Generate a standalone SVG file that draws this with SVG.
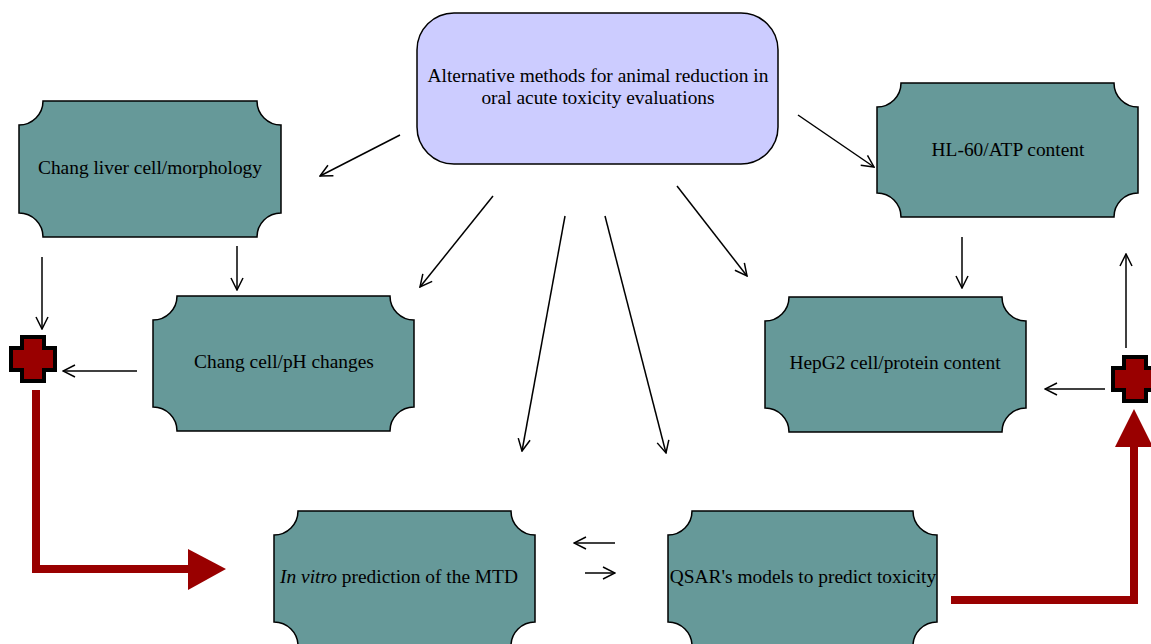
<svg xmlns="http://www.w3.org/2000/svg" width="1151" height="644" viewBox="0 0 1151 644">
<defs>
<style>
.plaque{fill:#669999;stroke:#000;stroke-width:1.5}
.lbl{font-family:"Liberation Serif","Times New Roman",serif;font-size:19.4px;fill:#000;text-anchor:middle}
.conn{stroke:#000;stroke-width:1.5;fill:none;marker-end:url(#chev)}
.red{stroke:#990000;stroke-width:8;fill:none}
.plus{fill:#990000;stroke:#000;stroke-width:4;stroke-linejoin:miter}
</style>
<marker id="chev" viewBox="0 0 14 14" refX="13" refY="7" markerWidth="14" markerHeight="14" markerUnits="userSpaceOnUse" orient="auto">
<path d="M1,1 L13,7 L1,13" fill="none" stroke="#000" stroke-width="1.5"/>
</marker>
</defs>
<rect width="1151" height="644" fill="#fff"/>

<g id="center">
<rect x="417" y="13" width="361" height="151" rx="37" ry="37" fill="#ccccff" stroke="#000" stroke-width="1.5"/>
<text class="lbl" x="598" y="82">Alternative methods for animal reduction in</text>
<text class="lbl" x="598" y="104">oral acute toxicity evaluations</text>
</g>

<g id="chang-liver">
<path class="plaque" d="M43,101 L257,101 A24,24 0 0 0 281,125 L281,213 A24,24 0 0 0 257,237 L43,237 A24,24 0 0 0 19,213 L19,125 A24,24 0 0 0 43,101 Z"/>
<text class="lbl" x="150" y="174">Chang liver cell/morphology</text>
</g>

<g id="chang-ph">
<path class="plaque" d="M177,296 L390,296 A24,24 0 0 0 414,320 L414,407 A24,24 0 0 0 390,431 L177,431 A24,24 0 0 0 153,407 L153,320 A24,24 0 0 0 177,296 Z"/>
<text class="lbl" x="284" y="368">Chang cell/pH changes</text>
</g>

<g id="hl60">
<path class="plaque" d="M901,83 L1114,83 A24,24 0 0 0 1138,107 L1138,193 A24,24 0 0 0 1114,217 L901,217 A24,24 0 0 0 877,193 L877,107 A24,24 0 0 0 901,83 Z"/>
<text class="lbl" x="1008" y="156">HL-60/ATP content</text>
</g>

<g id="hepg2">
<path class="plaque" d="M789,297 L1002,297 A24,24 0 0 0 1026,321 L1026,408 A24,24 0 0 0 1002,432 L789,432 A24,24 0 0 0 765,408 L765,321 A24,24 0 0 0 789,297 Z"/>
<text class="lbl" x="895" y="369">HepG2 cell/protein content</text>
</g>

<g id="invitro">
<path class="plaque" d="M298,511 L511,511 A24,24 0 0 0 535,535 L535,622 A24,24 0 0 0 511,646 L298,646 A24,24 0 0 0 274,622 L274,535 A24,24 0 0 0 298,511 Z"/>
<text class="lbl" x="399" y="583"><tspan font-style="italic">In vitro</tspan> prediction of the MTD</text>
</g>

<g id="qsar">
<path class="plaque" d="M692,511 L913,511 A24,24 0 0 0 937,535 L937,622 A24,24 0 0 0 913,646 L692,646 A24,24 0 0 0 668,622 L668,535 A24,24 0 0 0 692,511 Z"/>
<text class="lbl" x="803" y="583">QSAR's models to predict toxicity</text>
</g>

<g id="plus-left">
<path class="plus" d="M22,337 L44,337 L44,348 L55,348 L55,370 L44,370 L44,381 L22,381 L22,370 L11,370 L11,348 L22,348 Z"/>
</g>

<g id="plus-right">
<path class="plus" d="M1124,357 L1146,357 L1146,368 L1157,368 L1157,390 L1146,390 L1146,401 L1124,401 L1124,390 L1113,390 L1113,368 L1124,368 Z"/>
</g>

<g id="connectors">
<line class="conn" x1="400" y1="135" x2="320" y2="176"/>
<line class="conn" x1="798" y1="115" x2="874" y2="167"/>
<line class="conn" x1="237" y1="246" x2="237" y2="290"/>
<line class="conn" x1="493" y1="196" x2="420" y2="287"/>
<line class="conn" x1="565" y1="216" x2="522" y2="451"/>
<line class="conn" x1="605" y1="216" x2="666" y2="453"/>
<line class="conn" x1="677" y1="186" x2="747" y2="276"/>
<line class="conn" x1="962" y1="237" x2="962" y2="288"/>
<line class="conn" x1="42" y1="257" x2="42" y2="329"/>
<line class="conn" x1="137" y1="371" x2="63" y2="371"/>
<line class="conn" x1="1105" y1="389" x2="1045" y2="389"/>
<line class="conn" x1="1126" y1="348" x2="1126" y2="254"/>
<line class="conn" x1="615" y1="543" x2="574" y2="543"/>
<line class="conn" x1="585" y1="573" x2="615" y2="573"/>
<path class="red" d="M36,390 L36,569 L190,569"/>
<polygon points="188,549 226,569 188,590" fill="#990000"/>
<path class="red" d="M951,600 L1134,600 L1134,445"/>
<polygon points="1115,447 1134,409 1153,447" fill="#990000"/>
</g>
</svg>
